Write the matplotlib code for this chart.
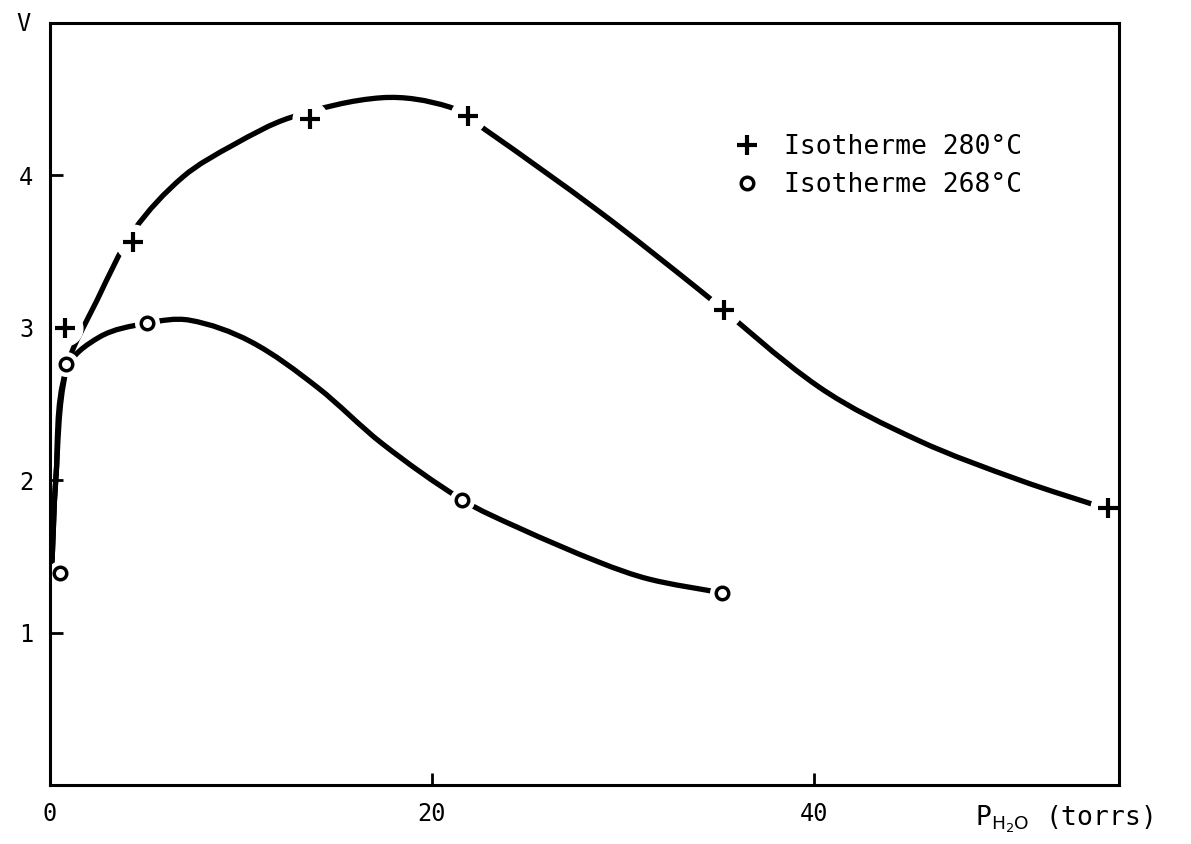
import matplotlib.pyplot as plt
from matplotlib.path import Path
from matplotlib.patches import PathPatch
import numpy as np

# DONNEES

# points mesures - isotherme 280 C
p_280 = [0.8, 4.35, 13.6, 21.9, 35.3, 55.4]
v_280 = [3.00, 3.56, 4.37, 4.39, 3.12, 1.82]

# points mesures - isotherme 268 C
p_268 = [0.52, 0.84, 5.08, 21.6, 35.2]
v_268 = [1.39, 2.76, 3.03, 1.87, 1.26]

# courbes tracees a la main (points de passage)
courbe_280_p = [0.1, 0.3, 0.84, 2.46, 4.4, 6.96, 9.6, 12.6, 17.4, 20.9, 22.8, 28.8, 34.0, 40.3, 45.5, 50.8, 55.4]
courbe_280_v = [1.45, 2.0, 2.72, 3.18, 3.64, 3.99, 4.2, 4.38, 4.51, 4.45, 4.3, 3.76, 3.25, 2.61, 2.26, 2.0, 1.81]

courbe_268_p = [0.1, 0.3, 0.84, 2.6, 5.08, 7.3, 10.5, 14.0, 17.4, 21.6, 24.5, 28.8, 31.4, 35.2]
courbe_268_v = [1.45, 2.0, 2.72, 2.94, 3.03, 3.05, 2.91, 2.61, 2.24, 1.87, 1.69, 1.46, 1.35, 1.26]

x_ticks = [0, 20, 40]
y_ticks = [1, 2, 3, 4]

plt.rcParams['font.family'] = ['DejaVu Sans Mono']


def courbe_lisse(px, py, sx=19.1, sy=152.0):
    # chemin de Bezier passant par les points de passage
    # (tangentes calculees a l'echelle de la figure, longueur selon la corde)
    pts = np.column_stack([np.array(px) * sx, np.array(py) * sy])
    n = len(pts)
    tang = np.zeros_like(pts)
    for i in range(n):
        a = pts[max(i - 1, 0)]
        b = pts[min(i + 1, n - 1)]
        d = b - a
        tang[i] = d / np.hypot(d[0], d[1])
    verts = [pts[0]]
    codes = [Path.MOVETO]
    for i in range(n - 1):
        corde = np.hypot(*(pts[i + 1] - pts[i]))
        verts += [pts[i] + tang[i] * corde / 3, pts[i + 1] - tang[i + 1] * corde / 3, pts[i + 1]]
        codes += [Path.CURVE4] * 3
    verts = np.array(verts) / [sx, sy]
    return Path(verts, codes)


# FIGURE

fig = plt.figure(figsize=(11.91, 8.44), dpi=100)
ax = fig.add_axes([0.042, 0.070, 0.8976, 0.9027])

for cx, cy in [(courbe_280_p, courbe_280_v), (courbe_268_p, courbe_268_v)]:
    ax.add_patch(PathPatch(courbe_lisse(cx, cy), facecolor='none', edgecolor='black',
                           lw=3.8, capstyle='round', zorder=2))

# interruption du trait autour des points
ax.plot(p_280, v_280, 'o', ms=25, color='white', zorder=2.2)
ax.plot(p_268, v_268, 'o', ms=17, color='white', zorder=2.2)

ax.plot(p_280, v_280, '+', ms=14, mew=3, color='black', zorder=3, label='Isotherme 280°C')
ax.plot(p_268, v_268, 'o', ms=9, mew=2.5, mfc='white', mec='black', zorder=3,
        label='Isotherme 268°C')

ax.set_xlim(0, 56)
ax.set_ylim(0, 5)
ax.set_xticks(x_ticks)
ax.set_yticks(y_ticks)
ax.tick_params(direction='in', length=9, width=2, labelsize=17, pad=12)
for s in ax.spines.values():
    s.set_linewidth(2.2)
    s.set_zorder(4)

ax.text(-0.025, 0.999, 'V', transform=ax.transAxes, fontsize=17, ha='center', va='center')
ax.text(0.865, -0.045, r'P$_{\mathrm{H_2O}}$ (torrs)', transform=ax.transAxes,
        fontsize=19, ha='left', va='center')

ax.legend(loc='upper left', bbox_to_anchor=(0.615, 0.885), frameon=False, fontsize=19,
          handletextpad=0.8, labelspacing=0.45, handlelength=1.2)

plt.savefig('out.png', dpi=100)
